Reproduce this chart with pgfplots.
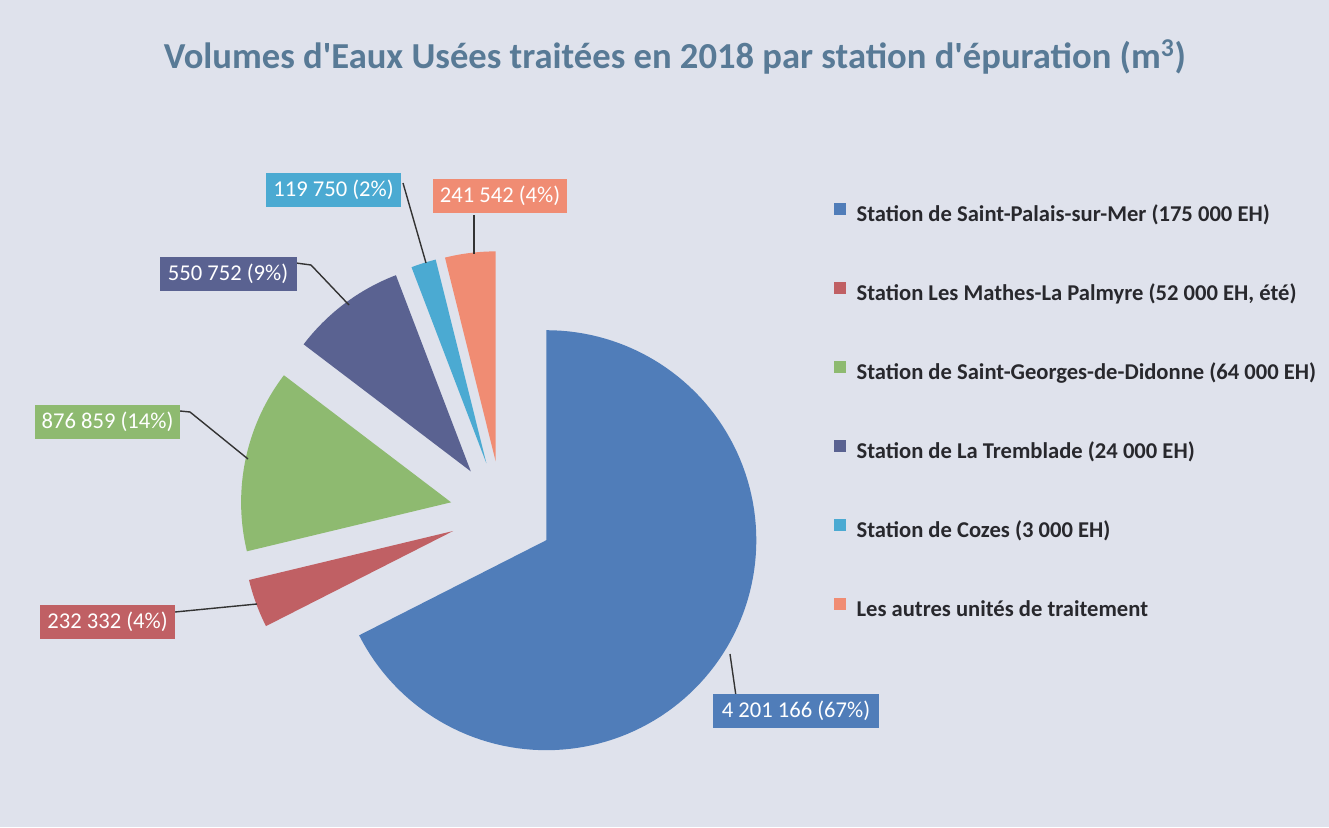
\documentclass[border=0pt]{standalone}
\usepackage{fontspec}
\setmainfont{Carlito}[Ligatures=TeXOff]
\usepackage{pgfplots}
\pgfplotsset{compat=1.18}

\definecolor{bgc}{RGB}{223,226,236}
\definecolor{titlec}{RGB}{88,122,150}
\definecolor{legtext}{RGB}{40,40,45}
\definecolor{sBlue}{RGB}{80,125,185}
\definecolor{sRed}{RGB}{192,96,100}
\definecolor{sGreen}{RGB}{142,186,112}
\definecolor{sDark}{RGB}{90,98,145}
\definecolor{sCyan}{RGB}{75,170,210}
\definecolor{sOrange}{RGB}{240,140,115}

% volumes (thousands of m3), in pie order
\def\vA{4201.166}\def\vB{232.332}\def\vC{876.859}
\def\vD{550.752}\def\vE{119.750}\def\vF{241.542}
\pgfmathsetmacro\total{\vA+\vB+\vC+\vD+\vE+\vF}

% pie centre, radius and explosion distance (axis units = px)
\def\cx{502}\def\cy{314}\def\rad{210}\def\gap{52}

% #1 volume before the slice, #2 volume of the slice, #3 colour
\newcommand\pieslice[3]{%
  \pgfmathsetmacro\aone{90-(#1/\total)*360}%
  \pgfmathsetmacro\atwo{90-((#1+#2)/\total)*360}%
  \pgfmathsetmacro\amid{(\aone+\atwo)/2}%
  \pgfmathsetmacro\px{\cx+\gap*cos(\amid)}%
  \pgfmathsetmacro\py{\cy+\gap*sin(\amid)}%
  \edef\temp{\noexpand\addplot[fill=#3,draw=none,forget plot,
      domain=\atwo:\aone,samples=120]
      ({\px+\rad*cos(x)},{\py+\rad*sin(x)}) -- (axis cs:\px,\py) -- cycle;}%
  \temp}

\begin{document}
\begin{tikzpicture}[
    leader/.style={draw=black!80, line width=0.7pt},
    lab/.style={text=white, inner sep=0pt, minimum height=17pt,
        font=\fontsize{11.3}{13}\selectfont},
]
\fill[bgc] (0,0) rectangle (664.5pt,413.5pt);
\begin{axis}[
    scale only axis,
    width=664.5pt, height=413.5pt,
    xmin=0, xmax=1329, ymin=0, ymax=827,
    hide axis,
    clip=false,
    legend image code/.code={\fill[#1] (0pt,0.6pt) rectangle (5.4pt,6pt);},
    legend cell align=left,
    legend style={draw=none, fill=none, inner sep=0pt, outer sep=0pt,
        at={(axis cs:834,624)}, anchor=north west,
        row sep=27.3pt, column sep=5.5pt,
        nodes={inner sep=0pt, text height=9pt, text depth=3pt,
            font=\bfseries\fontsize{11.3}{13}\selectfont, text=legtext}},
]
\pgfmathsetmacro\cB{\vA}
\pgfmathsetmacro\cC{\cB+\vB}
\pgfmathsetmacro\cD{\cC+\vC}
\pgfmathsetmacro\cE{\cD+\vD}
\pgfmathsetmacro\cF{\cE+\vE}
\pieslice{0}{\vA}{sBlue}
\pieslice{\cB}{\vB}{sRed}
\pieslice{\cC}{\vC}{sGreen}
\pieslice{\cD}{\vD}{sDark}
\pieslice{\cE}{\vE}{sCyan}
\pieslice{\cF}{\vF}{sOrange}

\addlegendimage{sBlue}\addlegendentry{Station de Saint-Palais-sur-Mer (175 000 EH)}
\addlegendimage{sRed}\addlegendentry{Station Les Mathes-La Palmyre (52 000 EH, été)}
\addlegendimage{sGreen}\addlegendentry{Station de Saint-Georges-de-Didonne (64 000 EH)}
\addlegendimage{sDark}\addlegendentry{Station de La Tremblade (24 000 EH)}
\addlegendimage{sCyan}\addlegendentry{Station de Cozes (3 000 EH)}
\addlegendimage{sOrange}\addlegendentry{Les autres unités de traitement}

% leader lines
\draw[leader] (axis cs:730,173) -- (axis cs:736,131);
\draw[leader] (axis cs:175,215) -- (axis cs:257,223);
\draw[leader] (axis cs:180,416) -- (axis cs:190,415) -- (axis cs:248,368);
\draw[leader] (axis cs:296,564) -- (axis cs:311,562) -- (axis cs:349,522);
\draw[leader] (axis cs:403,644) -- (axis cs:426,564);
\draw[leader] (axis cs:474,612) -- (axis cs:474,573);

% data labels
\node[lab, fill=sBlue, minimum width=83pt] at (axis cs:796,116) {4 201 166 (67\%)};
\node[lab, fill=sRed, minimum width=67.5pt] at (axis cs:107.5,205) {232 332 (4\%)};
\node[lab, fill=sGreen, minimum width=72.5pt] at (axis cs:107.5,405.5) {876 859 (14\%)};
\node[lab, fill=sDark, minimum width=68.5pt] at (axis cs:228,553) {550 752 (9\%)};
\node[lab, fill=sCyan, minimum width=67.5pt] at (axis cs:333.5,637) {119 750 (2\%)};
\node[lab, fill=sOrange, minimum width=67pt] at (axis cs:500,631) {241 542 (4\%)};

\node[text=titlec, font=\bfseries\fontsize{18.3}{22}\selectfont] at (axis cs:675,770)
    {Volumes d'Eaux Usées traitées en 2018 par station d'épuration (m\textsuperscript{3})};
\end{axis}
\end{tikzpicture}
\end{document}
